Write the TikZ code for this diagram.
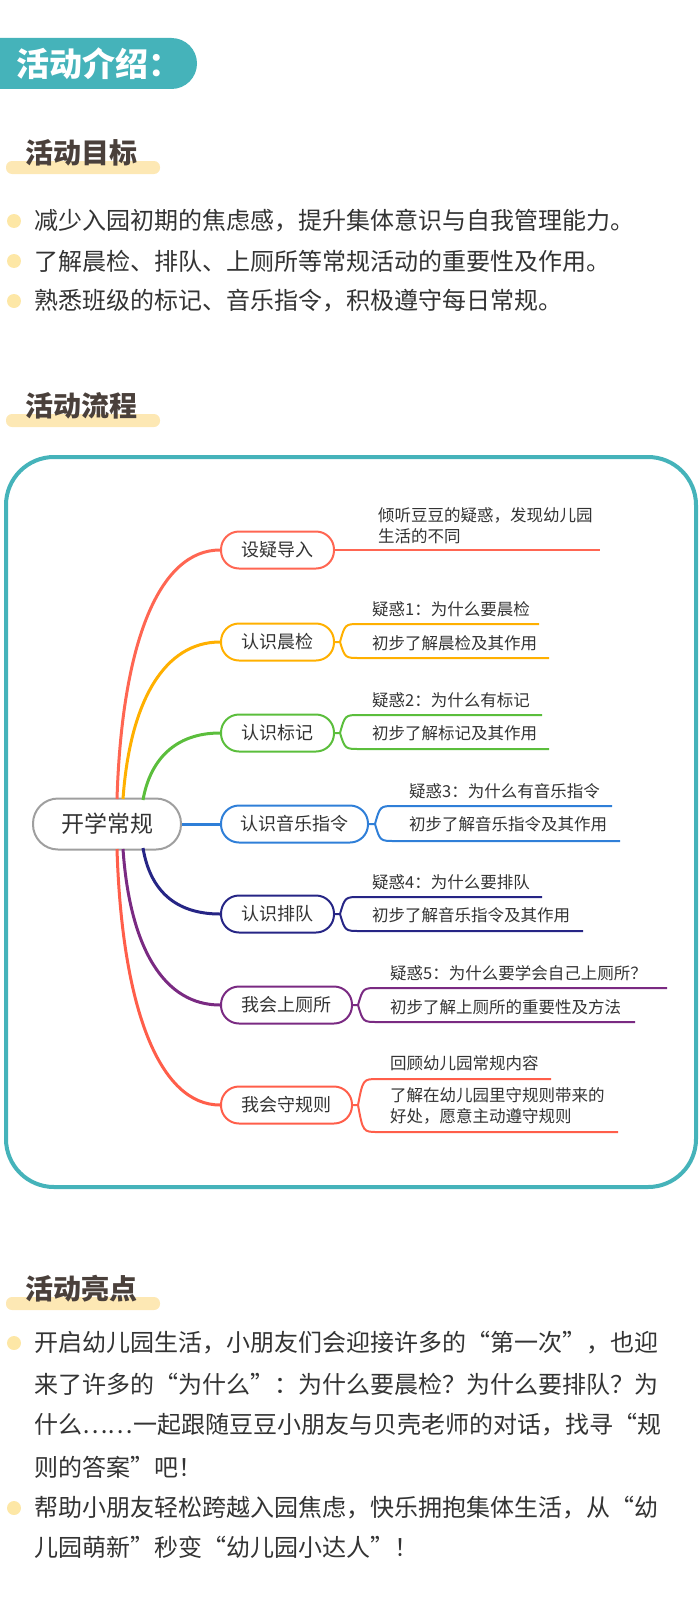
\documentclass[tikz,border=0pt]{standalone}
\usepackage{fontspec}
\setmainfont{Noto Sans CJK SC}
\definecolor{teal}{HTML}{45B3BA}
\definecolor{hbar}{HTML}{FDE8B4}
\definecolor{dot}{HTML}{FDE7A6}
\definecolor{hd}{HTML}{4A403B}
\definecolor{tx}{HTML}{333333}
\definecolor{cA}{HTML}{FF6652}
\definecolor{cB}{HTML}{FFB000}
\definecolor{cC}{HTML}{5BBE3C}
\definecolor{cD}{HTML}{2F7FD8}
\definecolor{cE}{HTML}{262585}
\definecolor{cF}{HTML}{7A2A82}
\definecolor{cG}{HTML}{FF5E4A}
\begin{document}
\begin{tikzpicture}[x=1pt,y=-1pt,
  head/.style={font=\fontsize{28}{30}\selectfont\bfseries,text=hd,anchor=west,inner sep=0},
  body/.style={font=\fontsize{24}{28}\selectfont,text=tx,anchor=west,inner sep=0},
  topic/.style={draw=#1,line width=2pt,rounded corners=18pt,minimum height=37pt,font=\fontsize{18}{20}\selectfont,text=tx,anchor=west,inner sep=0},
  lbl/.style={font=\fontsize{16.5}{21}\selectfont,text=tx,anchor=west,inner sep=0,align=left},
  conn/.style={draw=#1,line width=3pt},
  br/.style={draw=#1,line width=2pt}]
\useasboundingbox (0,0) rectangle (700,1600);
% header
\fill[teal,rounded corners=25.5pt] (-40,38) rectangle (197,89);
\node[anchor=west,inner sep=0,text=white,font=\fontsize{33}{35}\selectfont\bfseries] (title) at (16,64) {活动介绍：};
% headings
\newcommand\hbarat[3]{\fill[hbar,rounded corners=6pt] (#1,#2) rectangle (#3,#2+13);}
\hbarat{6}{161}{160}
\node[head] (h1) at (25,153) {活动目标};
\hbarat{6}{414}{160}
\node[head] (h2) at (25,406) {活动流程};
\hbarat{6}{1297}{160}
\node[head] (h3) at (25,1289) {活动亮点};
% goals
\foreach \y/\t [count=\i] in {221/减少入园初期的焦虑感，提升集体意识与自我管理能力。,261/了解晨检、排队、上厕所等常规活动的重要性及作用。,301/熟悉班级的标记、音乐指令，积极遵守每日常规。}{
  \fill[dot] (14,\y) circle (7);
  \node[body] (g\i) at (34,\y) {\t};
}
% highlights
\fill[dot] (14,1343) circle (7);
\fill[dot] (14,1508) circle (7);
\node[body] (p1) at (34,1343) {开启幼儿园生活，小朋友们会迎接许多的“第一次”，也迎};
\node[body] (p2) at (34,1384) {来了许多的“为什么”：为什么要晨检？为什么要排队？为};
\node[body] (p3) at (34,1425) {什么……一起跟随豆豆小朋友与贝壳老师的对话，找寻“规};
\node[body] (p4) at (34,1467) {则的答案”吧！};
\node[body] (p5) at (34,1508) {帮助小朋友轻松跨越入园焦虑，快乐拥抱集体生活，从“幼};
\node[body] (p6) at (34,1547) {儿园萌新”秒变“幼儿园小达人”！};
% frame
\draw[teal,line width=4pt,rounded corners=48pt] (6,457) rectangle (696,1187);
% mind map
\node[draw=gray!75,line width=2pt,rounded corners=25pt,minimum width=148pt,minimum height=51pt,font=\fontsize{23}{25}\selectfont,text=tx,inner sep=0] (root) at (107,824) {开学常规};
\node[topic=cA,minimum width=113pt] (n1) at (220,550) {设疑导入};
\node[topic=cB,minimum width=113pt] (n2) at (220,642) {认识晨检};
\node[topic=cC,minimum width=113pt] (n3) at (220,733) {认识标记};
\node[topic=cD,minimum width=147pt] (n4) at (220,824) {认识音乐指令};
\node[topic=cE,minimum width=113pt] (n5) at (220,914) {认识排队};
\node[topic=cF,minimum width=131pt] (n6) at (220,1005) {我会上厕所};
\node[topic=cG,minimum width=131pt] (n7) at (220,1105) {我会守规则};
% connectors from root
\coordinate (r1) at (117,799);
\coordinate (r2) at (123,799);
\coordinate (r3) at (143,800);
\coordinate (r5) at (143,848);
\coordinate (r6) at (123,849);
\coordinate (r7) at (117,849);
\draw[conn=cA] (r1) .. controls (122,640) and (160,550) .. (n1.west);
\draw[conn=cB] (r2) .. controls (130,700) and (165,642) .. (n2.west);
\draw[conn=cC] (r3) .. controls (150,760) and (175,733) .. (n3.west);
\draw[conn=cD] (root.east) -- (n4.west);
\draw[conn=cE] (r5) .. controls (150,890) and (175,914) .. (n5.west);
\draw[conn=cF] (r6) .. controls (130,950) and (165,1005) .. (n6.west);
\draw[conn=cG] (r7) .. controls (122,1010) and (160,1105) .. (n7.west);
% branch 1
\coordinate (e1) at (600,550);
\draw[br=cA] (n1.east) -- (e1);
\node[lbl] (t1) at (378,526) {倾听豆豆的疑惑，发现幼儿园\\生活的不同};
% generic branches
\newcommand\branch[9]{%
  \coordinate (#8s) at (#3,#9);
  \coordinate (#8u) at (#6,#4);
  \coordinate (#8l) at (#7,#5);
  \draw[br=#2] (#1.east) -- (#8s) .. controls (#3+5,#4) .. (#3+20,#4) -- (#8u);
  \draw[br=#2] (#8s) .. controls (#3+5,#5) .. (#3+20,#5) -- (#8l);
}
\branch{n2}{cB}{340}{624}{658}{539}{549}{b2}{642}
\node[lbl] (q2) at (372,609) {疑惑1：为什么要晨检};
\node[lbl] (a2) at (372,643) {初步了解晨检及其作用};
\branch{n3}{cC}{340}{715}{749}{542}{549}{b3}{733}
\node[lbl] (q3) at (372,700) {疑惑2：为什么有标记};
\node[lbl] (a3) at (372,733) {初步了解标记及其作用};
\branch{n4}{cD}{375}{806}{841}{612}{620}{b4}{824}
\node[lbl] (q4) at (409,791) {疑惑3：为什么有音乐指令};
\node[lbl] (a4) at (409,824) {初步了解音乐指令及其作用};
\branch{n5}{cE}{340}{897}{931}{542}{583}{b5}{914}
\node[lbl] (q5) at (372,882) {疑惑4：为什么要排队};
\node[lbl] (a5) at (372,915) {初步了解音乐指令及其作用};
\branch{n6}{cF}{358}{988}{1022}{667}{635}{b6}{1005}
\node[lbl] (q6) at (390,973) {疑惑5：为什么要学会自己上厕所？};
\node[lbl] (a6) at (390,1007) {初步了解上厕所的重要性及方法};
\branch{n7}{cG}{358}{1079}{1132}{551}{618}{b7}{1105}
\node[lbl] (q7) at (390,1063) {回顾幼儿园常规内容};
\node[lbl] (a7) at (390,1106) {了解在幼儿园里守规则带来的\\好处，愿意主动遵守规则};
\end{tikzpicture}
\end{document}
